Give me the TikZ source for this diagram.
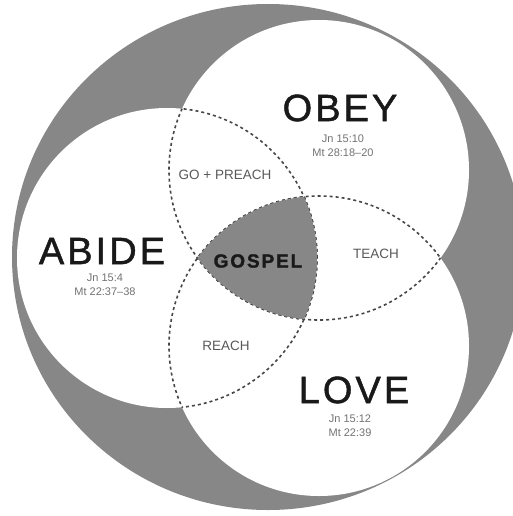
\documentclass[tikz,border=0pt]{standalone}
\usepackage{fontspec}
\setmainfont{Liberation Sans}
\newfontfamily\headfont[LetterSpace=8,FakeBold=1.2]{Liberation Sans}
\newfontfamily\corefont[LetterSpace=10,FakeBold=1.5]{Liberation Sans}
\tikzset{
  backdrop/.style={fill=black!47},
  bubble/.style={fill=white},
  seam/.style={draw=black!72,line width=1.6pt,dash pattern=on 3pt off 3pt},
  headword/.style={font=\headfont\fontsize{38}{40}\selectfont,text=black!90,inner sep=0pt},
  verse/.style={font=\fontsize{11}{14}\selectfont,text=black!55,align=center,inner sep=0pt},
  region/.style={font=\fontsize{13.5}{16}\selectfont,text=black!65,inner sep=0pt},
  core/.style={font=\corefont\bfseries\fontsize{19}{22}\selectfont,text=black!90,inner sep=0pt},
}
\def\rad{150pt}

\begin{document}
\begin{tikzpicture}[x=1pt,y=-1pt]
\useasboundingbox (0,0) rectangle (513,516);
\coordinate (rim) at (268,257);
\coordinate (abide) at (167,258);
\coordinate (obey) at (319,170);
\coordinate (love) at (319,346);
\fill[backdrop] (rim) ellipse [x radius=256pt,y radius=253pt];
\fill[bubble] (abide) circle (\rad) (obey) circle (\rad) (love) circle (\rad);
\begin{scope}
\clip (obey) circle (\rad);
\draw[seam] (abide) circle (\rad) (love) circle (\rad);
\end{scope}
\begin{scope}
\clip (abide) circle (\rad);
\draw[seam] (obey) circle (\rad) (love) circle (\rad);
\end{scope}
\begin{scope}
\clip (love) circle (\rad);
\draw[seam] (abide) circle (\rad) (obey) circle (\rad);
\end{scope}
\begin{scope}
\clip (abide) circle (\rad);
\clip (obey) circle (\rad);
\fill[backdrop] (love) circle (\rad);
\end{scope}
\node[headword] (obeyword) at (340,108) {OBEY};
\node[verse] (obeyverse) at (343,145.5) {Jn 15:10\\Mt 28:18--20};
\node[headword] (abideword) at (102,251) {ABIDE};
\node[verse] (abideverse) at (105,285) {Jn 15:4\\Mt 22:37--38};
\node[headword] (loveword) at (354,390) {LOVE};
\node[verse] (loveverse) at (350,425.5) {Jn 15:12\\Mt 22:39};
\node[region] (preach) at (225,175) {GO + PREACH};
\node[region] (teach) at (376,254) {TEACH};
\node[region] (reach) at (226,346) {REACH};
\node[core] (gospel) at (258,261) {GOSPEL};
\end{tikzpicture}
\end{document}
